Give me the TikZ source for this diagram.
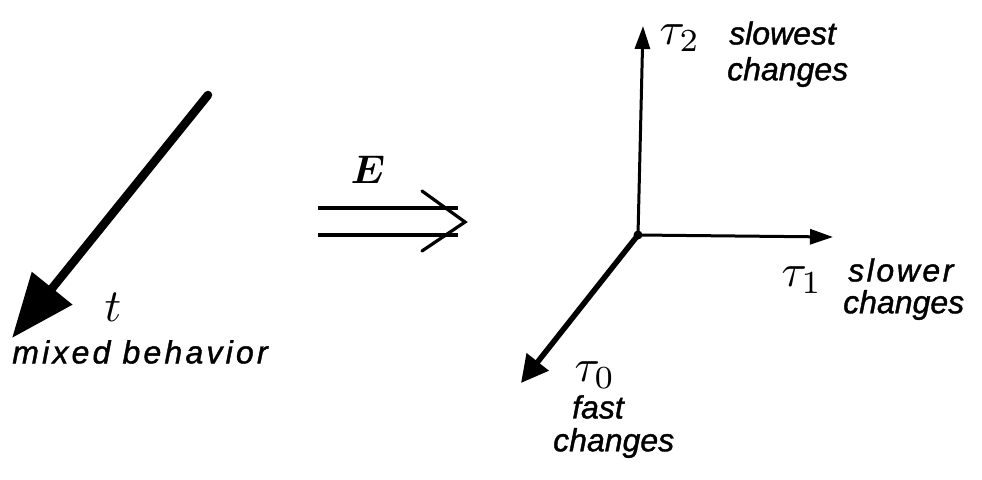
\documentclass[tikz,border=0pt]{standalone}
\usepackage{amsmath}
\usepackage{fontspec}
\setmainfont{Liberation Sans}
\newfontfamily\handfont[ItalicFont={Liberation Sans Italic}, ItalicFeatures={FakeBold=1.2}]{Liberation Sans}
\usetikzlibrary{arrows.meta}
\begin{document}
\begin{tikzpicture}[x=1pt,y=-1pt,
  hand/.style={font=\fontsize{32}{36}\handfont\itshape, inner sep=0pt, anchor=center},
  sym/.style={scale=4.6, inner sep=0pt, anchor=center},
  bigarrow/.style={line width=8.5pt, -{Triangle[length=64pt,width=50pt]}},
  midarrow/.style={line width=5.5pt, -{Triangle[length=27pt,width=27pt]}},
  thinarrow/.style={line width=3pt, -{Triangle[length=23pt,width=15pt]}}]
\useasboundingbox (0,0) rectangle (982,479);
% left: mixed time axis
\coordinate (tstart) at (208,95);
\coordinate (ttip) at (12,338);
\draw[bigarrow] (tstart) -- (ttip);
\fill (tstart) circle (4.25pt);
\node[sym] (tlab) at (113,307) {$t$};
\node[hand, font=\fontsize{32}{36}\handfont\itshape\addfontfeature{LetterSpace=10}] (mixed) at (140,352) {mixed behavior};
% transformation arrow
\coordinate (e1a) at (318,208);
\coordinate (e1b) at (458,208);
\coordinate (e2a) at (318,235);
\coordinate (e2b) at (458,235);
\coordinate (etip) at (465,222);
\coordinate (eup) at (422,191);
\coordinate (edn) at (422,251);
\draw[line width=3.2pt] (e1a) -- (e1b);
\draw[line width=3.2pt] (e2a) -- (e2b);
\draw[line width=3.2pt, line cap=round, line join=miter] (eup) -- (etip) -- (edn);
\node[scale=4, inner sep=0pt] (E) at (368,170) {$\boldsymbol{E}$};
% right: three time scales
\coordinate (O) at (638,235);
\coordinate (t2tip) at (643,26);
\coordinate (t1tip) at (833,237);
\coordinate (t0tip) at (521,383);
\draw[thinarrow] (O) -- (t2tip);
\draw[thinarrow] (O) -- (t1tip);
\draw[midarrow] (O) -- (t0tip);
\fill (O) circle (4.5pt);
\node[sym] (tau2) at (680,38) {$\tau_2$};
\node[hand, anchor=west] (slowest) at (729,33) {slowest};
\node[hand, anchor=west] (ch2) at (727,72) {changes};
\node[sym] (tau1) at (802,280) {$\tau_1$};
\node[hand, anchor=west, font=\fontsize{32}{36}\handfont\itshape\addfontfeature{LetterSpace=8}] (slower) at (848,270) {slower};
\node[hand, anchor=west] (ch1) at (843,305) {changes};
\node[sym] (tau0) at (595,375) {$\tau_0$};
\node[hand, anchor=west] (fast) at (572,407) {fast};
\node[hand, anchor=west] (ch0) at (553,443) {changes};
\end{tikzpicture}
\end{document}
